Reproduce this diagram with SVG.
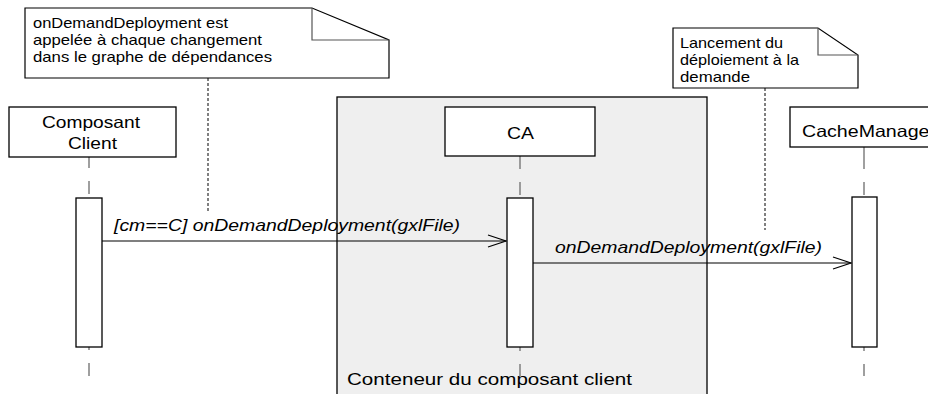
<svg xmlns="http://www.w3.org/2000/svg" width="928" height="394" viewBox="0 0 928 394">
<style>
.box{fill:#fff;stroke:#000;stroke-width:1.3}
.note{fill:#fff;stroke:#000;stroke-width:1.2}
.fold{fill:none;stroke:#555;stroke-width:1.2}
.life{stroke:#808080;stroke-width:1.5;stroke-dasharray:13 13;fill:none}
.anchor{stroke:#000;stroke-width:1;stroke-dasharray:3 2;fill:none}
.msg{stroke:#000;stroke-width:1.2;fill:none}
.t{font-family:"Liberation Sans",Arial,sans-serif;font-size:16.5px;fill:#000}
.n{font-family:"Liberation Sans",Arial,sans-serif;font-size:15px;fill:#000}
.i{font-style:italic}
</style>
<g id="container">
<rect x="337" y="97" width="370" height="310" fill="#efefef" stroke="#000" stroke-width="1.3"/>
<text class="t" x="347" y="385" textLength="285" lengthAdjust="spacingAndGlyphs">Conteneur du composant client</text>
</g>
<g id="note1">
<path class="note" d="M25,8 H312 L389,40 V78 H25 Z"/>
<path class="fold" d="M312,8 V40 H389"/>
<text class="n" x="33" y="28" textLength="195" lengthAdjust="spacingAndGlyphs">onDemandDeployment est</text>
<text class="n" x="33" y="45" textLength="229" lengthAdjust="spacingAndGlyphs">appelée à chaque changement</text>
<text class="n" x="33" y="62" textLength="239" lengthAdjust="spacingAndGlyphs">dans le graphe de dépendances</text>
</g>
<g id="note2">
<path class="note" d="M673,28 H818 L858,55 V88 H673 Z"/>
<path class="fold" d="M818,28 V55 H858"/>
<text class="n" x="680" y="48" textLength="103" lengthAdjust="spacingAndGlyphs">Lancement du</text>
<text class="n" x="680" y="65" textLength="119" lengthAdjust="spacingAndGlyphs">déploiement à la</text>
<text class="n" x="680" y="82" textLength="70" lengthAdjust="spacingAndGlyphs">demande</text>
</g>
<g id="connectors">
<line class="anchor" x1="208" y1="78" x2="208" y2="212"/>
<line class="anchor" x1="765" y1="88" x2="765" y2="230"/>
<line class="life" x1="89" y1="155" x2="89" y2="376"/>
<line class="life" x1="520" y1="156" x2="520" y2="376"/>
<line stroke="#808080" stroke-width="1.5" x1="864" y1="147" x2="864" y2="169"/>
<line class="life" x1="864" y1="182" x2="864" y2="376"/>
<line class="msg" x1="102" y1="241" x2="506" y2="241"/>
<path class="msg" d="M488,235 L506,241 L488,247"/>
<text class="t i" x="114" y="231" textLength="346" lengthAdjust="spacingAndGlyphs">[cm==C] onDemandDeployment(gxlFile)</text>
<line class="msg" x1="533" y1="263" x2="851" y2="263"/>
<path class="msg" d="M833,257 L851,263 L833,269"/>
<text class="t i" x="555" y="253" textLength="267" lengthAdjust="spacingAndGlyphs">onDemandDeployment(gxlFile)</text>
</g>
<g id="composantClient">
<rect class="box" x="9" y="107" width="167" height="50"/>
<text class="t" x="42" y="128" textLength="98" lengthAdjust="spacingAndGlyphs">Composant</text>
<text class="t" x="68" y="149" textLength="49" lengthAdjust="spacingAndGlyphs">Client</text>
<rect class="box" x="76" y="198" width="26" height="149"/>
</g>
<g id="CA">
<rect class="box" x="445" y="107" width="150" height="49"/>
<text class="t" x="507" y="139" textLength="27" lengthAdjust="spacingAndGlyphs">CA</text>
<rect class="box" x="507" y="198" width="26" height="149"/>
</g>
<g id="cacheManager">
<rect class="box" x="790" y="107" width="160" height="40"/>
<text class="t" x="802" y="137" textLength="134" lengthAdjust="spacingAndGlyphs">CacheManager</text>
<rect class="box" x="852" y="197" width="25" height="150"/>
</g>
</svg>
